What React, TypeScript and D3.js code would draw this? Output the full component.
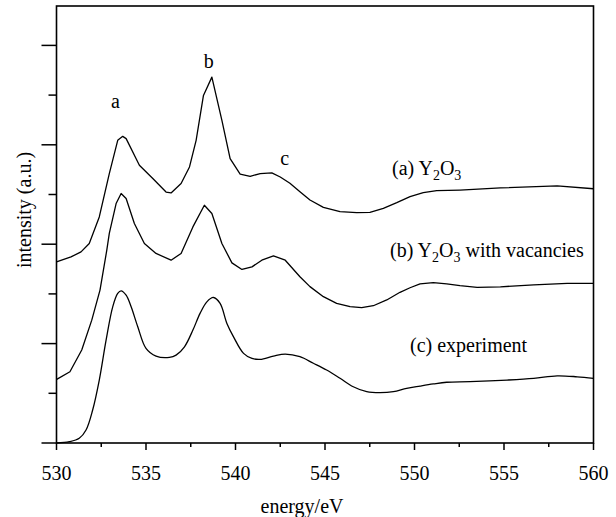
import React from "react";
import * as d3 from "d3";

const width = 616;
const height = 517;
const plot = { left: 56.5, right: 593.5, top: 6, bottom: 443 };
const font = '"Liberation Serif", "Times New Roman", Times, serif';

// energy (eV) and intensity (a.u., major y tick = 1)
const energyA = [530.0, 530.81, 531.37, 531.83, 532.39, 532.95, 533.42, 533.7, 533.89, 534.63, 535.38, 536.12, 536.4, 536.96, 537.43, 537.8, 538.21, 538.68, 539.24, 539.7, 540.26, 540.82, 541.38, 542.03, 542.5, 543.04, 543.6, 544.16, 544.91, 545.84, 546.77, 547.51, 548.26, 549.01, 549.75, 550.49, 551.24, 552.54, 554.8, 557.97, 560.0];
const valueA = [1.822, 1.872, 1.923, 2.007, 2.274, 2.711, 3.045, 3.085, 3.062, 2.794, 2.661, 2.525, 2.516, 2.61, 2.777, 3.045, 3.497, 3.681, 3.246, 2.861, 2.704, 2.683, 2.711, 2.717, 2.676, 2.613, 2.528, 2.445, 2.371, 2.327, 2.317, 2.321, 2.361, 2.418, 2.478, 2.518, 2.538, 2.545, 2.566, 2.586, 2.558];

const energyB = [530.01, 530.75, 531.41, 531.97, 532.43, 532.81, 532.95, 533.33, 533.61, 533.89, 534.35, 534.91, 535.56, 536.4, 536.96, 537.62, 538.26, 538.68, 539.24, 539.8, 540.36, 540.92, 541.47, 542.12, 542.78, 543.6, 544.16, 544.91, 545.65, 546.4, 547.05, 547.7, 548.45, 549.19, 549.75, 550.31, 551.05, 551.8, 552.54, 553.5, 554.8, 556.66, 558.53, 560.0];
const valueB = [0.64, 0.717, 0.935, 1.236, 1.538, 1.94, 2.108, 2.409, 2.51, 2.459, 2.208, 2.007, 1.907, 1.839, 1.907, 2.174, 2.392, 2.309, 2.007, 1.812, 1.746, 1.772, 1.839, 1.882, 1.839, 1.673, 1.573, 1.472, 1.405, 1.372, 1.362, 1.381, 1.439, 1.516, 1.562, 1.6, 1.613, 1.6, 1.583, 1.565, 1.571, 1.591, 1.605, 1.605];

const energyC = [530.0, 530.72, 531.27, 531.65, 532.02, 532.39, 532.77, 533.14, 533.42, 533.61, 533.89, 534.17, 534.54, 535.0, 535.56, 536.31, 536.68, 537.15, 537.62, 538.02, 538.4, 538.77, 539.14, 539.52, 539.89, 540.45, 540.92, 541.38, 542.12, 542.78, 543.6, 544.35, 545.09, 545.84, 546.58, 547.33, 548.07, 548.82, 549.56, 550.31, 551.05, 551.8, 553.1, 555.17, 556.66, 557.97, 559.09, 560.0];
const valueC = [0.0, 0.013, 0.047, 0.131, 0.332, 0.633, 1.035, 1.37, 1.505, 1.531, 1.487, 1.37, 1.169, 0.952, 0.874, 0.861, 0.884, 0.968, 1.136, 1.304, 1.42, 1.464, 1.404, 1.203, 1.068, 0.902, 0.851, 0.841, 0.874, 0.894, 0.868, 0.802, 0.734, 0.651, 0.566, 0.516, 0.506, 0.516, 0.55, 0.573, 0.594, 0.611, 0.617, 0.633, 0.65, 0.676, 0.666, 0.65];

const xTicks = [530, 535, 540, 545, 550, 555, 560];
const xMinorTicks = [532.5, 537.5, 542.5, 547.5, 552.5, 557.5];
const yTicks = [0, 1, 2, 3, 4];
const yMinorTicks = [0.5, 1.5, 2.5, 3.5];

const peakLabels = [
  { text: "a", e: 533.3, v: 3.37 },
  { text: "b", e: 538.5, v: 3.77 },
  { text: "c", e: 542.75, v: 2.8 },
];

const x = d3.scaleLinear().domain([530, 560]).range([plot.left, plot.right]);
const y = d3.scaleLinear().domain([0, (plot.bottom - plot.top) / 99.4]).range([plot.bottom, plot.top]);

const toPoints = (es: number[], vs: number[]) => es.map((e, i) => [e, vs[i]] as [number, number]);

const linear = d3
  .line<[number, number]>()
  .x((d) => x(d[0]))
  .y((d) => y(d[1]));
const smooth = d3
  .line<[number, number]>()
  .x((d) => x(d[0]))
  .y((d) => y(d[1]))
  .curve(d3.curveCatmullRom.alpha(0.5));

export default function App() {
  const series = [
    linear(toPoints(energyA, valueA)),
    linear(toPoints(energyB, valueB)),
    smooth(toPoints(energyC, valueC)),
  ];

  return (
    <div style={{ position: "absolute", left: 0, top: 0 }}>
      <svg width={width} height={height} style={{ display: "block", background: "#fff", fontFamily: font }}>
        <g fill="#000" style={{ fontFamily: font }}>
          {series.map((d, i) => (
            <path key={i} d={d || ""} fill="none" stroke="#000" strokeWidth={1.3} strokeLinejoin="round" />
          ))}

          <rect
            x={plot.left}
            y={plot.top}
            width={plot.right - plot.left}
            height={plot.bottom - plot.top}
            fill="none"
            stroke="#000"
            strokeWidth={1.6}
          />

          {xTicks.map((t) => (
            <g key={t}>
              <line x1={x(t)} x2={x(t)} y1={plot.bottom} y2={plot.bottom + 7} stroke="#000" strokeWidth={1.5} />
              <text x={x(t)} y={480} textAnchor="middle" fontSize={20}>
                {t}
              </text>
            </g>
          ))}
          {xMinorTicks.map((t) => (
            <line key={t} x1={x(t)} x2={x(t)} y1={plot.bottom} y2={plot.bottom + 4} stroke="#000" strokeWidth={1.5} />
          ))}
          {yTicks.map((t) => (
            <line key={t} x1={plot.left - 15} x2={plot.left} y1={y(t)} y2={y(t)} stroke="#000" strokeWidth={1.5} />
          ))}
          {yMinorTicks.map((t) => (
            <line key={t} x1={plot.left - 8} x2={plot.left} y1={y(t)} y2={y(t)} stroke="#000" strokeWidth={1.5} />
          ))}

          <text x={302} y={513} textAnchor="middle" fontSize={20}>
            energy/eV
          </text>
          <text transform="translate(31,210) rotate(-90)" textAnchor="middle" fontSize={20}>
            intensity (a.u.)
          </text>

          {peakLabels.map((p) => (
            <text key={p.text} x={x(p.e)} y={y(p.v)} textAnchor="middle" fontSize={20}>
              {p.text}
            </text>
          ))}

          <text x={392} y={175} fontSize={20}>
            (a) Y<tspan fontSize={14} dy={5}>2</tspan>
            <tspan dy={-5}>O</tspan>
            <tspan fontSize={14} dy={5}>3</tspan>
          </text>
          <text x={390} y={257} fontSize={20}>
            (b) Y<tspan fontSize={14} dy={5}>2</tspan>
            <tspan dy={-5}>O</tspan>
            <tspan fontSize={14} dy={5}>3</tspan>
            <tspan dy={-5}> with vacancies</tspan>
          </text>
          <text x={410} y={352} fontSize={20}>
            (c) experiment
          </text>
        </g>
      </svg>
    </div>
  );
}
